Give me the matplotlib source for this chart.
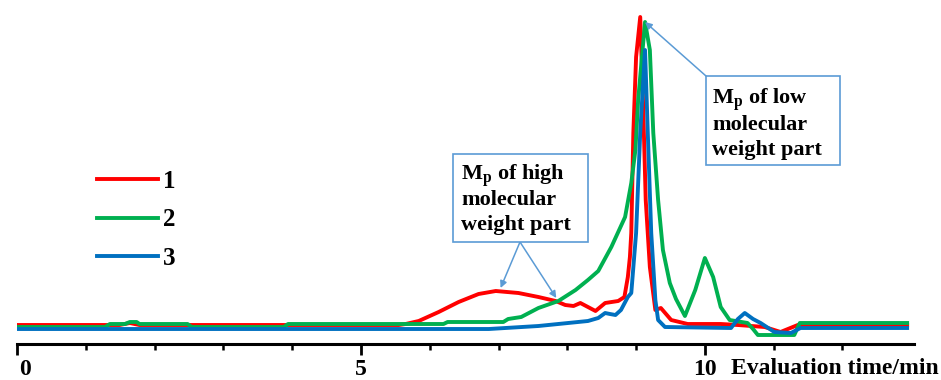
import numpy as np
import matplotlib
matplotlib.use("Agg")
import matplotlib.pyplot as plt
import matplotlib.transforms as mtransforms
from matplotlib.patches import Rectangle
from matplotlib.ticker import FixedLocator

plt.rcParams["font.family"] = ["Liberation Serif", "DejaVu Serif"]
plt.rcParams["font.weight"] = "bold"
plt.rcParams["mathtext.fontset"] = "custom"
plt.rcParams["mathtext.rm"] = "Liberation Serif:bold"
plt.rcParams["mathtext.bf"] = "Liberation Serif:bold"

# elution curves (time in min, signal in arbitrary units)
t1 = [0.0, 1.49, 1.64, 1.78, 5.55, 5.65, 5.84, 6.13, 6.42, 6.71, 6.96, 7.29, 7.58,
      7.83, 7.97, 8.09, 8.19, 8.30, 8.41, 8.55, 8.74, 8.83, 8.88, 8.91, 8.93, 8.96,
      9.00, 9.06, 9.10, 9.14, 9.20, 9.28, 9.36, 9.51, 9.75, 10.23, 10.48, 10.87,
      11.10, 11.35, 12.94]
s1 = [22, 22, 24, 22, 22, 23, 26, 35, 45, 53, 56, 54, 50,
      46, 42, 41, 44, 40, 36, 44, 46, 50, 70, 90, 114, 214,
      290, 330, 247, 147, 80, 37, 39, 27, 23, 23, 22, 20,
      15, 22, 22]

t2 = [0.0, 1.28, 1.35, 1.57, 1.64, 1.74, 1.78, 2.48, 2.54, 3.88, 3.94, 6.20, 6.26,
      7.07, 7.14, 7.33, 7.58, 7.87, 8.12, 8.30, 8.45, 8.64, 8.84, 8.93, 8.99, 9.03,
      9.13, 9.20, 9.25, 9.32, 9.39, 9.49, 9.58, 9.71, 9.86, 10.00, 10.12, 10.23,
      10.36, 10.62, 10.70, 10.77, 11.30, 11.38, 12.94]
s2 = [20, 20, 23, 23, 25, 25, 23, 23, 20, 20, 23, 23, 25,
      25, 28, 30, 39, 46, 57, 67, 76, 100, 130, 164, 197, 247,
      325, 297, 214, 147, 97, 64, 48, 31, 57, 89, 70, 40,
      27, 24, 18, 12, 12, 24, 24]

t3 = [0.0, 6.86, 7.58, 8.30, 8.45, 8.55, 8.62, 8.70, 8.78, 8.88, 8.93, 9.00, 9.06,
      9.13, 9.17, 9.22, 9.28, 9.32, 9.42, 10.38, 10.48, 10.58, 10.70, 10.81, 11.01,
      11.25, 11.39, 12.94]
s3 = [18, 18, 21, 26, 29, 34, 33, 32, 37, 50, 54, 114, 214,
      297, 214, 114, 47, 27, 20, 19, 28, 34, 28, 24, 15,
      14, 19, 19]

labels = ["1", "2", "3"]
colors = ["#FF0000", "#00B050", "#0070C0"]

hi_lines = ["M$_\\mathregular{p}$ of high", "molecular", "weight part"]
lo_lines = ["M$_\\mathregular{p}$ of low", "molecular", "weight part"]

# annotation targets (time, signal)
hi_targets = [(7.03, 59), (7.84, 49)]
lo_target = (9.13, 325)

W, H = 941, 380
fig = plt.figure(figsize=(W / 100, H / 100), dpi=100)
ax = fig.add_axes([17 / W, 36 / H, 897 / W, 334 / H])


def fx(px):
    return px / W


def fy(py):
    return 1 - py / H


for t, s, c, lab in zip([t1, t2, t3], [s1, s2, s3], colors, labels):
    ax.plot(t, s, color=c, lw=2.8, label=lab, solid_joinstyle="round")

ax.set_xlim(0, 13.04)
ax.set_ylim(3, 337)
for side in ("left", "top", "right"):
    ax.spines[side].set_visible(False)
ax.spines["bottom"].set_linewidth(2.2)
ax.set_yticks([])
ax.set_xticks([0, 5, 10])
ax.xaxis.set_minor_locator(FixedLocator([1, 2, 3, 4, 6, 7, 8, 9, 11, 12]))
ax.tick_params(axis="x", which="major", length=8, width=2, labelsize=17, pad=3)
ax.tick_params(axis="x", which="minor", length=4, width=1.8)
for lb in ax.get_xticklabels():
    lb.set_fontweight("bold")
# the "0" sits a little right of its tick in the original
first = ax.get_xticklabels()[0]
first.set_transform(first.get_transform() +
                    mtransforms.ScaledTranslation(6 / 72, 0, fig.dpi_scale_trans))

fig.text(fx(731), fy(368), "Evaluation time/min", ha="left", va="center",
         fontsize=17, fontweight="bold")

ax.legend(loc="center left", bbox_to_anchor=(fx(97), fy(220)),
          bbox_transform=fig.transFigure, frameon=False, fontsize=18,
          handlelength=2.45, handletextpad=0.2, labelspacing=0.62,
          borderpad=0, borderaxespad=0)

box_col = "#5B9BD5"
# high molecular weight box
fig.patches.append(Rectangle((fx(453), fy(242)), (588 - 453) / W, (242 - 154) / H,
                             transform=fig.transFigure, fill=True, fc="white",
                             ec=box_col, lw=1.2, zorder=5))
for line, base in zip(hi_lines, [180, 205, 230]):
    fig.text(fx(461), fy(base), line, ha="left", va="baseline", fontsize=16,
             fontweight="bold", zorder=6)
for tx, ty in hi_targets:
    ax.annotate("", xy=(tx, ty), xytext=(fx(520), fy(242)),
                textcoords="figure fraction",
                arrowprops=dict(arrowstyle="-|>", color=box_col, lw=1.1,
                                mutation_scale=10, shrinkA=0, shrinkB=0))

# low molecular weight box
fig.patches.append(Rectangle((fx(706), fy(165)), (840 - 706) / W, (165 - 76) / H,
                             transform=fig.transFigure, fill=True, fc="white",
                             ec=box_col, lw=1.2, zorder=5))
for line, base in zip(lo_lines, [104, 130, 155]):
    fig.text(fx(712), fy(base), line, ha="left", va="baseline", fontsize=16,
             fontweight="bold", zorder=6)
ax.annotate("", xy=lo_target, xytext=(fx(706), fy(76)),
            textcoords="figure fraction",
            arrowprops=dict(arrowstyle="-|>", color=box_col, lw=1.1,
                            mutation_scale=10, shrinkA=0, shrinkB=0))

fig.savefig("out.png", dpi=100)
